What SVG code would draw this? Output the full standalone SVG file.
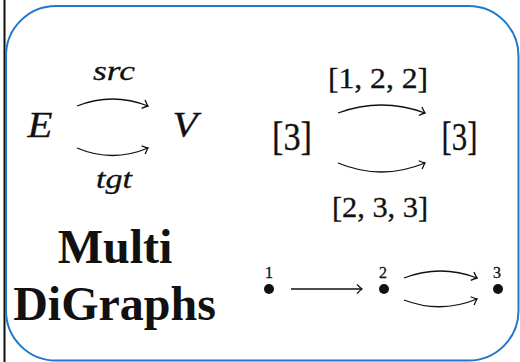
<svg xmlns="http://www.w3.org/2000/svg" width="520" height="362" viewBox="0 0 520 362">
<style>
.math{font-family:"Liberation Serif","DejaVu Serif",serif;fill:#111;stroke:#111;stroke-width:0.3}
.it{font-style:italic}
.title{font-family:"Liberation Serif","DejaVu Serif",serif;font-weight:bold;font-size:48px;fill:#111}
.edge{fill:none;stroke:#111;stroke-width:1.3}
</style>
<defs>
<marker id="arr" markerUnits="userSpaceOnUse" markerWidth="14" markerHeight="14" viewBox="-8 -7 10 14" refX="0" refY="0" orient="auto">
<path d="M-5,-4.5 Q-1.5,-1 0,0 Q-1.5,1 -5,4.5" fill="none" stroke="#111" stroke-width="1.3"/>
</marker>
</defs>
<rect x="0" y="0" width="520" height="362" fill="#fff"/>
<line x1="4.5" y1="0" x2="4.5" y2="362" stroke="#111" stroke-width="2"/>
<rect id="frame" x="6" y="6" width="512.5" height="354.5" rx="50" ry="50" fill="none" stroke="#1f78c8" stroke-width="2"/>
<g id="E"><text class="math it" x="40" y="137" font-size="36" text-anchor="middle" textLength="25" lengthAdjust="spacingAndGlyphs">E</text></g>
<g id="V"><text class="math it" x="185" y="137" font-size="36" text-anchor="middle" textLength="25" lengthAdjust="spacingAndGlyphs">V</text></g>
<g id="src-label"><text class="math it" x="114" y="80" font-size="28" text-anchor="middle" textLength="42" lengthAdjust="spacingAndGlyphs">src</text></g>
<g id="tgt-label"><text class="math it" x="114" y="188" font-size="28" text-anchor="middle" textLength="36" lengthAdjust="spacingAndGlyphs">tgt</text></g>
<g id="n3a"><text class="math" x="292" y="150" font-size="40" text-anchor="middle" textLength="40" lengthAdjust="spacingAndGlyphs">[3]</text></g>
<g id="n3b"><text class="math" x="459.5" y="150" font-size="40" text-anchor="middle" textLength="36" lengthAdjust="spacingAndGlyphs">[3]</text></g>
<g id="l122"><text class="math" x="378" y="88" font-size="29" text-anchor="middle" textLength="100" lengthAdjust="spacingAndGlyphs">[1, 2, 2]</text></g>
<g id="l233"><text class="math" x="380" y="217" font-size="29" text-anchor="middle" textLength="96" lengthAdjust="spacingAndGlyphs">[2, 3, 3]</text></g>
<g id="title">
<text class="title" x="115" y="263" text-anchor="middle">Multi</text>
<text class="title" x="114.5" y="320" text-anchor="middle">DiGraphs</text>
</g>
<g id="v1"><circle cx="269" cy="289" r="5" fill="#111"/><text class="math" x="269" y="278" font-size="16" text-anchor="middle" stroke-width="0.1">1</text></g>
<g id="v2"><circle cx="384" cy="289" r="5" fill="#111"/><text class="math" x="383" y="278" font-size="16" text-anchor="middle" stroke-width="0.1">2</text></g>
<g id="v3"><circle cx="498" cy="289" r="5" fill="#111"/><text class="math" x="497" y="278" font-size="16" text-anchor="middle" stroke-width="0.1">3</text></g>
<g id="connectors">
<path class="edge" d="M77,106 Q112.5,92 148,106" marker-end="url(#arr)"/>
<path class="edge" d="M77,148 Q112.5,163 148,148" marker-end="url(#arr)"/>
<path class="edge" d="M338,113 Q381.5,97 425,113" marker-end="url(#arr)"/>
<path class="edge" d="M338,163 Q381.5,181 425,163" marker-end="url(#arr)"/>
<path class="edge" d="M291,289 L362,289" marker-end="url(#arr)"/>
<path class="edge" d="M404,278 Q440.5,264 477,278" marker-end="url(#arr)"/>
<path class="edge" d="M404,300 Q440.5,314 477,299" marker-end="url(#arr)"/>
</g>
</svg>
